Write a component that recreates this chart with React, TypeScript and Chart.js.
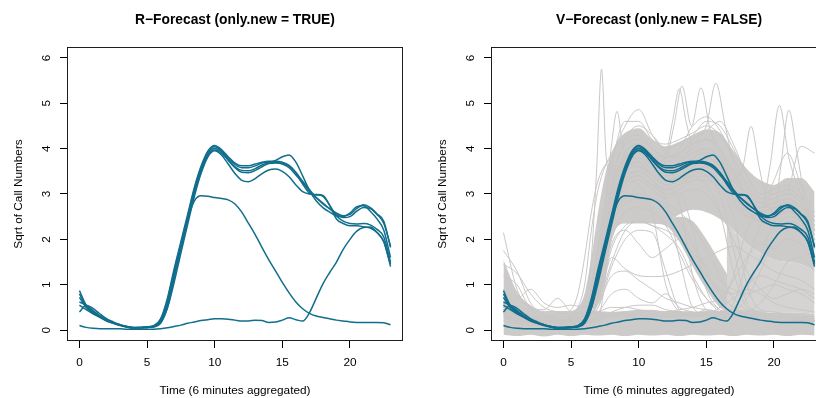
import React, { useEffect, useRef } from 'react';
import { Chart, registerables } from 'chart.js';

Chart.register(...registerables);

const FONT = "'Liberation Sans', Arial, Helvetica, sans-serif";
const BLUE = '#116e8c';
const GREY = '#c9c6c6';
const GREY_FILL = '#cdcaca';
const GREY_MID = '#d6d3d3';

const titleLeft = 'R\u2212Forecast (only.new = TRUE)';
const titleRight = 'V\u2212Forecast (only.new = FALSE)';
const xLabel = 'Time (6 minutes aggregated)';
const yLabel = 'Sqrt of Call Numbers';

const xTicks = [0, 5, 10, 15, 20];
const yTicks = [0, 1, 2, 3, 4, 5, 6];

// time grids
const tHalf = [0, 0.5, 1, 1.5, 2, 2.5, 3, 3.5, 4, 4.5, 5, 5.5, 6, 6.5, 7, 7.5, 8, 8.5, 9, 9.5, 10, 10.5, 11, 11.5, 12, 12.5, 13, 13.5, 14, 14.5, 15, 15.5, 16, 16.5, 17, 17.5, 18, 18.5, 19, 19.5, 20, 20.5, 21, 21.5, 22, 22.5, 23];
const tHour = [0, 1, 2, 3, 4, 5, 6, 7, 8, 9, 10, 11, 12, 13, 14, 15, 16, 17, 18, 19, 20, 21, 22, 23];

// forecast curves (blue)
const blueA = [0.87,0.55,0.42,0.31,0.22,0.16,0.12,0.08,0.06,0.06,0.07,0.10,0.25,0.70,1.35,1.95,2.55,3.15,3.62,3.95,4.07,3.98,3.82,3.68,3.62,3.62,3.66,3.70,3.72,3.72,3.70,3.63,3.48,3.28,3.10,2.92,2.78,2.68,2.58,2.52,2.55,2.68,2.76,2.70,2.55,2.35,1.85];
const blueB = [0.80,0.52,0.40,0.30,0.22,0.16,0.11,0.08,0.05,0.06,0.07,0.09,0.23,0.65,1.30,1.90,2.50,3.10,3.58,3.92,4.04,3.96,3.80,3.65,3.58,3.58,3.62,3.68,3.70,3.74,3.82,3.86,3.70,3.40,3.08,2.85,2.70,2.60,2.52,2.50,2.58,2.72,2.74,2.62,2.45,2.20,1.60];
const blueC = [0.72,0.50,0.38,0.29,0.21,0.15,0.11,0.07,0.05,0.05,0.06,0.08,0.20,0.60,1.24,1.85,2.46,3.06,3.54,3.88,4.00,3.93,3.76,3.60,3.52,3.51,3.56,3.64,3.69,3.70,3.68,3.62,3.46,3.22,3.02,2.98,2.95,2.75,2.52,2.40,2.35,2.34,2.35,2.32,2.22,2.05,1.50];
const blueD = [0.40,0.55,0.48,0.36,0.25,0.18,0.12,0.07,0.05,0.05,0.06,0.08,0.19,0.56,1.18,1.80,2.42,3.02,3.50,3.85,3.97,3.90,3.74,3.58,3.48,3.47,3.52,3.60,3.67,3.68,3.66,3.58,3.42,3.25,3.06,2.92,2.80,2.67,2.56,2.48,2.50,2.62,2.70,2.68,2.56,2.40,1.82];
const blueE = [0.62,0.55,0.43,0.32,0.22,0.16,0.11,0.08,0.06,0.06,0.07,0.09,0.17,0.48,1.05,1.70,2.33,2.95,3.46,3.82,3.95,3.86,3.66,3.45,3.30,3.27,3.34,3.45,3.53,3.55,3.50,3.38,3.20,3.05,3.00,2.99,2.97,2.75,2.45,2.35,2.30,2.30,2.28,2.25,2.15,1.95,1.40];
const blueF = [0.55,0.45,0.36,0.28,0.20,0.15,0.10,0.07,0.05,0.05,0.06,0.07,0.15,0.50,1.15,1.85,2.45,2.85,2.96,2.95,2.92,2.90,2.87,2.78,2.60,2.35,2.10,1.82,1.55,1.30,1.05,0.82,0.62,0.47,0.37,0.31,0.28,0.25,0.22,0.20,0.18,0.17,0.17,0.17,0.17,0.16,0.12];
const blueG = [0.10,0.06,0.04,0.03,0.03,0.03,0.03,0.02,0.02,0.02,0.02,0.02,0.03,0.05,0.08,0.11,0.15,0.18,0.21,0.23,0.25,0.25,0.24,0.22,0.20,0.20,0.22,0.21,0.17,0.18,0.22,0.27,0.23,0.20,0.38,0.70,1.02,1.27,1.50,1.78,2.00,2.18,2.26,2.27,2.15,1.95,1.45];

// dense grey masses (lower / upper envelopes)
const botLo = [-0.1,-0.13,-0.1,-0.14,-0.1,-0.13,-0.1,-0.12,-0.1,-0.13,-0.1,-0.12,-0.1,-0.13,-0.1,-0.12,-0.1,-0.13,-0.1,-0.12,-0.1,-0.13,-0.1,-0.12];
const botHi = [1.55,0.85,0.55,0.42,0.42,0.42,0.45,0.42,0.4,0.42,0.45,0.45,0.42,0.42,0.4,0.42,0.42,0.45,0.45,0.4,0.38,0.38,0.38,0.35];
const dayT = [5, 5.5, 6, 6.5, 7, 7.5, 8, 8.5, 9, 10, 11, 12, 13, 14, 15, 16, 17, 18, 19, 20, 21, 22, 23];
const dayLo = [0.42,0.42,0.42,0.45,0.6,1.2,2.0,2.3,2.35,2.35,2.35,2.4,2.55,2.65,2.6,2.45,2.2,1.9,1.7,1.55,1.5,1.45,1.3];
const dayHi = [0.42,0.5,0.8,1.6,2.6,3.4,3.9,4.2,4.35,4.45,4.2,4.05,4.15,4.3,4.42,4.35,3.95,3.55,3.3,3.2,3.35,3.35,3.05];
const swT = [11, 12, 13, 14, 15, 16, 17, 18];
const swLo = [2.35,2.3,1.95,1.4,0.9,0.5,0.38,0.4];
const swHi = [2.4,2.45,2.5,2.4,2.0,1.5,1.0,0.55];
const eveT = [16.5, 17, 18, 19, 20, 21, 22, 23];
const eveLo = [0.42,0.42,0.42,0.4,0.38,0.38,0.38,0.35];
const eveHi = [2.4,2.2,1.9,1.7,1.55,1.5,1.45,1.3];

// individual grey curves
const g1 = [2.15,0.9,0.45,0.3,0.25,0.2,0.3,0.9,3.0,3.9,4.1,3.8,3.6,3.7,3.9,4.0,3.8,3.3,2.9,2.7,2.8,2.9,2.7,2.2];
const g2 = [1.75,1.3,0.6,0.35,0.3,0.3,0.25,0.3,2.2,3.5,4.0,3.7,3.5,3.6,3.8,3.9,3.7,3.2,2.8,2.6,2.7,2.8,2.6,2.0];
const g3 = [1.2,1.0,0.5,0.45,0.7,0.4,0.35,0.4,0.3,0.3,0.25,0.3,0.28,0.3,0.35,0.3,0.25,0.3,0.3,0.25,0.25,0.3,0.2,0.2];
const tRise = [0,1,2,3,4,5,5.5,6,6.5,7,8,9,10,11,12,13,14,15,16,17,18,19,20,21,22,23];
const g4 = [0.6,0.4,0.3,0.3,0.35,0.45,0.8,1.6,2.6,3.3,3.8,3.9,3.7,3.4,3.2,3.3,3.5,3.6,3.4,3.0,2.6,2.4,2.5,2.6,2.4,2.0];
const g5 = [0.9,0.5,0.3,0.25,0.25,0.35,0.5,1.0,2.2,3.1,3.9,4.2,4.3,4.0,3.8,3.9,4.1,4.2,4.0,3.5,3.0,2.8,2.9,3.0,2.8,2.3];
const s1T = [0,1,2,3,4,5,6,6.5,6.9,7.25,7.6,8,9,10,11,12,13,14,15,16,17,18,19,20,21,22,23];
const s1V = [0.5,0.35,0.25,0.2,0.2,0.3,0.6,1.6,3.6,5.75,3.8,3.4,3.7,3.9,3.6,3.3,3.3,3.5,3.6,3.4,3.0,2.6,2.4,2.3,2.5,2.4,1.9];
const s2T = [0,1,2,3,4,5,6,7,7.6,8.0,8.4,8.8,9.2,10,11,12,13,14,15,16,17,18,19,20,21,22,23];
const s2V = [0.45,0.3,0.2,0.2,0.2,0.25,0.4,1.8,3.0,4.1,4.82,4.1,3.7,3.6,3.4,3.2,3.3,3.5,3.6,3.5,3.1,2.7,2.5,2.5,2.6,2.5,2.0];
const g6 = [0.7,0.4,0.3,0.25,0.2,0.25,0.4,1.8,3.7,4.5,4.86,4.3,3.9,3.8,4.0,4.2,4.0,3.5,3.0,2.8,2.9,3.0,2.8,2.2];
const g7 = [0.5,0.3,0.2,0.2,0.2,0.25,0.35,1.5,3.6,4.6,4.6,4.2,4.1,4.2,4.35,4.5,4.3,3.8,3.2,2.9,3.0,3.1,2.9,2.4];
const g8 = [0.4,0.3,0.2,0.15,0.15,0.2,0.3,1.2,3.2,4.2,4.5,4.3,4.0,4.1,4.3,4.6,4.5,4.0,3.4,3.0,3.1,3.2,3.0,2.5];
const g9 = [0.6,0.35,0.25,0.2,0.2,0.25,0.35,1.2,3.3,4.1,4.2,4.0,3.8,4.0,4.5,4.7,4.4,3.8,3.2,2.9,2.9,3.0,2.8,2.3];
const g10 = [0.5,0.3,0.2,0.2,0.15,0.2,0.3,1.0,3.0,3.9,4.1,3.9,3.7,3.9,4.2,4.4,4.6,4.1,3.4,3.0,3.0,3.1,2.9,2.4];
const h1T = [0,1,2,3,4,5,6,7,8,9,10,11,12,12.5,13,13.5,14,15,16,17,18,19,20,21,22,23];
const h1V = [0.6,0.4,0.25,0.2,0.2,0.25,0.35,1.4,3.2,3.8,4.0,3.8,3.9,4.6,5.32,4.6,4.1,4.2,3.9,3.4,2.9,2.6,2.7,2.8,2.6,2.1];
const h2T = [0,1,2,3,4,5,6,7,8,9,10,11,12,12.6,13.2,13.9,14.6,15.3,16,17,18,19,20,21,22,23];
const h2V = [0.5,0.35,0.25,0.2,0.2,0.2,0.3,1.1,3.0,3.7,3.9,3.7,3.8,4.5,5.38,4.5,5.34,4.4,4.0,3.5,3.0,2.7,2.7,2.9,2.7,2.2];
const h3T = [0,1,2,3,4,5,6,7,8,9,10,11,12,13,14,15,15.7,16.4,17,18,19,20,21,22,23];
const h3V = [0.55,0.35,0.25,0.2,0.2,0.25,0.35,1.3,3.1,3.8,4.0,3.7,3.5,3.7,4.1,4.5,5.44,4.5,3.7,3.1,2.8,2.7,2.8,2.7,2.2];
const e1T = [0,1,2,3,4,5,6,7,8,9,10,11,12,13,14,15,16,17,17.7,18.3,18.9,19.5,20,21,22,23];
const e1V = [0.4,0.3,0.2,0.2,0.2,0.25,0.35,1.2,3.0,3.7,3.9,3.6,3.4,3.5,3.8,4.0,3.8,3.3,3.6,4.49,3.6,2.8,2.6,2.6,2.5,2.0];
const e2T = [0,1,2,3,4,5,6,7,8,9,10,11,12,13,14,15,16,17,18,19,19.7,20.4,21.1,22,23];
const e2V = [0.5,0.3,0.2,0.2,0.2,0.2,0.3,1.0,2.8,3.6,3.8,3.5,3.3,3.4,3.7,3.8,3.6,3.1,2.7,2.6,3.6,4.95,3.8,3.0,2.3];
const e3T = [0,1,2,3,4,5,6,7,8,9,10,11,12,13,14,15,16,17,18,19,20,20.5,21.1,21.7,22.3,23];
const e3V = [0.45,0.3,0.2,0.2,0.2,0.2,0.3,0.9,2.7,3.5,3.7,3.4,3.2,3.3,3.6,3.7,3.5,3.0,2.6,2.5,2.6,3.6,4.85,3.9,2.9,2.2];
const e4 = [0.4,0.3,0.2,0.2,0.2,0.2,0.3,0.8,2.5,3.3,3.5,3.3,3.1,3.2,3.4,3.5,3.3,2.9,2.5,2.4,2.5,3.0,4.05,3.9];
const e5 = [0.35,0.25,0.2,0.15,0.15,0.2,0.25,0.7,2.4,3.2,3.4,3.2,3.0,3.1,3.3,3.4,3.2,2.8,2.5,2.6,3.3,3.9,3.2,2.6];
const f1 = [0.5,0.35,0.25,0.2,0.2,0.2,0.25,0.7,2.0,2.6,2.7,2.6,2.3,1.7,1.1,0.7,0.45,0.35,0.3,0.3,0.25,0.25,0.25,0.2];
const f2 = [0.6,0.4,0.3,0.25,0.2,0.2,0.3,0.9,2.3,2.8,2.9,2.9,2.7,2.4,1.9,1.3,0.8,0.5,0.35,0.3,0.3,0.3,0.25,0.2];
const f3 = [0.4,0.3,0.2,0.2,0.15,0.2,0.25,0.6,1.8,2.3,2.4,2.3,2.1,1.8,1.2,0.7,0.4,0.3,0.3,0.25,0.25,0.2,0.2,0.2];
const f4 = [0.45,0.3,0.2,0.2,0.2,0.2,0.3,0.5,1.4,2.0,2.2,2.15,1.3,0.45,0.3,0.3,0.25,0.3,0.3,0.25,0.25,0.3,0.25,0.2];
const f5 = [0.5,0.35,0.25,0.2,0.2,0.25,0.35,1.2,3.0,3.6,3.7,3.4,3.2,2.8,1.2,0.45,0.35,0.3,0.3,0.3,0.25,0.25,0.25,0.2];
const f6 = [0.55,0.35,0.25,0.2,0.2,0.2,0.3,1.0,2.7,3.3,3.4,3.2,3.0,3.0,2.2,0.9,0.45,0.35,0.3,0.3,0.3,0.25,0.25,0.2];
const f7 = [0.5,0.35,0.25,0.2,0.2,0.25,0.35,1.3,3.1,3.7,3.8,3.5,3.3,3.4,3.5,3.4,3.0,1.8,0.6,0.4,0.35,0.3,0.3,0.25];
const f8 = [0.6,0.4,0.3,0.2,0.2,0.25,0.35,1.1,2.9,3.5,3.6,3.4,3.2,3.3,3.4,3.2,2.6,1.3,0.5,0.4,0.35,0.35,0.3,0.25];
const f9 = [0.5,0.35,0.25,0.2,0.2,0.2,0.3,1.0,2.8,3.4,3.5,3.3,3.1,3.2,3.3,3.3,3.1,2.5,1.0,0.45,0.4,0.35,0.3,0.3];
const f10 = [0.5,0.35,0.25,0.2,0.2,0.25,0.35,1.1,2.8,3.3,3.2,2.6,1.0,0.4,0.3,0.3,0.3,0.3,0.3,0.25,0.25,0.25,0.2,0.2];
const f11 = [0.45,0.3,0.2,0.2,0.2,0.2,0.3,0.9,2.6,3.1,3.3,3.2,2.9,1.6,0.5,0.35,0.3,0.3,0.3,0.3,0.25,0.25,0.25,0.2];
const f12 = [0.5,0.3,0.25,0.2,0.2,0.2,0.3,0.8,2.4,2.9,3.0,2.9,2.8,2.6,2.3,1.8,1.2,0.7,0.45,0.35,0.3,0.3,0.25,0.2];
const L1 = [0.4,0.3,0.25,0.2,0.2,0.2,0.3,0.5,1.6,1.35,1.2,1.18,1.2,1.3,1.45,1.6,1.75,1.85,1.7,1.5,1.3,1.2,1.1,0.9];
const L2 = [0.3,0.25,0.2,0.15,0.15,0.2,0.25,0.4,0.8,0.9,0.7,0.6,0.8,0.5,0.4,0.35,0.5,0.7,0.9,0.8,0.6,0.5,0.45,0.4];
const L3 = [0.35,0.25,0.2,0.2,0.15,0.2,0.3,0.6,1.9,2.2,1.9,1.6,1.8,2.0,1.7,1.4,1.1,0.9,0.8,0.9,1.0,0.9,0.8,0.6];
const b1 = [0.2,0.15,0.1,0.1,0.1,0.1,0.15,0.25,0.4,0.5,0.55,0.55,0.45,0.4,0.35,0.45,0.4,0.35,0.3,0.3,0.3,0.3,0.25,0.2];
const r1 = [0.3,0.2,0.15,0.1,0.1,0.15,0.2,0.3,0.35,0.4,0.4,0.35,0.35,0.4,0.4,0.35,0.4,0.6,1.5,2.3,2.6,2.7,2.5,2.0];
const r2 = [0.35,0.25,0.2,0.15,0.15,0.15,0.2,0.3,0.35,0.35,0.3,0.3,0.35,0.3,0.35,0.4,0.5,1.2,2.2,2.7,2.8,2.9,2.6,2.1];
const r3 = [0.25,0.2,0.15,0.1,0.1,0.1,0.15,0.25,0.3,0.3,0.35,0.35,0.3,0.3,0.35,0.35,0.35,0.4,0.7,1.3,2.0,2.4,2.3,1.8];
const r4 = [0.3,0.2,0.15,0.1,0.1,0.15,0.2,0.25,0.3,0.35,0.35,0.3,0.3,0.35,0.3,0.35,0.4,0.5,0.9,1.6,2.4,2.8,2.7,2.2];
const r5 = [0.3,0.2,0.15,0.1,0.1,0.1,0.15,0.2,0.3,0.3,0.3,0.3,0.3,0.3,0.3,0.3,0.3,0.35,0.4,0.6,1.0,1.5,1.6,1.3];
const v1 = [0.4,0.3,0.2,0.2,0.2,0.2,0.3,0.6,1.5,2.2,2.4,2.3,2.2,2.0,1.6,1.2,0.9,0.8,1.0,1.2,1.1,1.0,0.9,0.7];
const v2 = [0.35,0.25,0.2,0.15,0.15,0.2,0.25,0.4,0.5,0.5,0.45,0.4,0.4,0.45,0.5,0.6,0.7,1.1,1.6,1.9,1.8,2.0,1.9,1.5];
const v3 = [0.5,0.3,0.2,0.2,0.2,0.2,0.3,1.0,2.6,3.2,3.3,3.1,2.9,3.0,3.1,3.0,2.6,2.0,1.3,0.9,0.7,0.8,0.9,0.8];
const n1 = [1.45,1.25,0.8,0.5,0.4,0.35,0.4,0.35,0.3,0.3,0.35,0.3,0.3,0.3,0.3,0.35,0.3,0.3,0.3,0.3,0.3,0.25,0.25,0.2];
const n2 = [0.9,0.7,0.9,0.6,0.5,0.55,0.5,0.6,1.2,1.3,1.1,0.9,0.7,0.6,0.5,0.45,0.4,0.4,0.35,0.35,0.3,0.3,0.3,0.25];

const blueCurves = [blueA, blueB, blueC, blueD, blueE, blueF, blueG];
const greyCurves: [number[], number[]][] = [
  [tHour, g1], [tHour, g2], [tHour, g3], [tRise, g4], [tRise, g5],
  [s1T, s1V], [s2T, s2V], [tHour, g6], [tHour, g7], [tHour, g8], [tHour, g9], [tHour, g10],
  [h1T, h1V], [h2T, h2V], [h3T, h3V], [e1T, e1V], [e2T, e2V], [e3T, e3V], [tHour, e4], [tHour, e5],
  [tHour, f1], [tHour, f2], [tHour, f3], [tHour, f4], [tHour, f5], [tHour, f6], [tHour, f7], [tHour, f8], [tHour, f9],
  [tHour, f10], [tHour, f11], [tHour, f12], [tHour, L1], [tHour, L2], [tHour, L3], [tHour, b1],
  [tHour, r1], [tHour, r2], [tHour, r3], [tHour, r4], [tHour, r5],
  [tHour, v1], [tHour, v2], [tHour, v3], [tHour, n1], [tHour, n2],
];
const greyBands: [number[], number[], number[], string][] = [
  [tHour, botLo, botHi, GREY_FILL],
  [eveT, eveLo, eveHi, GREY_MID],
  [dayT, dayLo, dayHi, GREY_FILL],
  [swT, swLo, swHi, GREY_FILL],
];

function pts(t: number[], v: number[]) {
  return v.map((y, i) => ({ x: t[i], y }));
}

function lineDs(t: number[], v: number[], color: string, width: number, order: number) {
  return {
    data: pts(t, v), borderColor: color, backgroundColor: color, borderWidth: width,
    pointRadius: 0, pointHoverRadius: 0, fill: false, cubicInterpolationMode: 'monotone', order,
  };
}

function bandDs(t: number[], lo: number[], hi: number[], color: string) {
  return [
    { data: pts(t, lo), borderColor: 'rgba(0,0,0,0)', borderWidth: 0, pointRadius: 0, fill: false, cubicInterpolationMode: 'monotone', order: 2 },
    { data: pts(t, hi), borderColor: 'rgba(0,0,0,0)', borderWidth: 0, pointRadius: 0, fill: '-1', backgroundColor: color, cubicInterpolationMode: 'monotone', order: 2 },
  ];
}

function blueSets() {
  return blueCurves.map((v) => lineDs(tHalf, v, BLUE, 1.5, 0));
}

function leftDatasets() {
  return blueSets();
}

function rightDatasets() {
  const sets: any[] = [];
  greyBands.forEach(([t, lo, hi, c]) => sets.push(...bandDs(t, lo, hi, c)));
  greyCurves.forEach(([t, v]) => sets.push(lineDs(t, v, GREY, 1, 1)));
  sets.push(...blueSets());
  return sets;
}

const boxPlugin = {
  id: 'rbox',
  afterDraw(chart: any) {
    const { ctx, chartArea: a } = chart;
    const l = Math.round(a.left), t = Math.round(a.top), r = Math.round(a.right), b = Math.round(a.bottom);
    ctx.save();
    ctx.strokeStyle = '#1e1e1e';
    ctx.lineWidth = 1;
    ctx.strokeRect(l + 0.5, t + 0.5, r - l - 1, b - t - 1);
    ctx.restore();
  },
};

function makeOptions(title: string): any {
  const tickFont = { family: FONT, size: 11.8 };
  const grid = { display: true, drawOnChartArea: false, drawTicks: true, tickLength: 7, color: '#000', lineWidth: 1 };
  return {
    responsive: false,
    animation: false,
    devicePixelRatio: 1,
    events: [],
    layout: { padding: { left: 0, right: 17, top: 0, bottom: 0 } },
    plugins: {
      legend: { display: false },
      tooltip: { enabled: false },
      title: {
        display: true, text: title, fullSize: false, color: '#000',
        font: { family: FONT, size: 13.8, weight: 'bold', lineHeight: 1.2 },
        padding: { top: 11.7, bottom: 18.7 },
      },
    },
    scales: {
      x: {
        type: 'linear', min: -0.92, max: 23.92,
        afterBuildTicks: (s: any) => { s.ticks = xTicks.map((v) => ({ value: v })); },
        afterFit: (s: any) => { s.height = 57; },
        grid, border: { display: false },
        ticks: { color: '#000', font: tickFont, padding: 7.5, autoSkip: false, maxRotation: 0, minRotation: 0 },
        title: { display: true, text: xLabel, color: '#000', font: { family: FONT, size: 11.8, lineHeight: 1.2 }, padding: { top: 0, bottom: 0 } },
      },
      y: {
        type: 'linear', min: -0.24, max: 6.24,
        afterBuildTicks: (s: any) => { s.ticks = yTicks.map((v) => ({ value: v })); },
        afterFit: (s: any) => { s.width = 67; },
        grid, border: { display: false },
        ticks: { color: '#000', font: tickFont, padding: 10.2, autoSkip: false, minRotation: 90, maxRotation: 90, crossAlign: 'center' },
        title: { display: true, text: yLabel, color: '#000', font: { family: FONT, size: 11.8, lineHeight: 1.2 }, padding: { top: 11.4, bottom: 0 } },
      },
    },
  };
}

function Panel({ title, left, datasets }: { title: string; left: number; datasets: () => any[] }) {
  const ref = useRef<HTMLCanvasElement>(null);
  useEffect(() => {
    const chart = new Chart(ref.current as HTMLCanvasElement, {
      type: 'line',
      data: { datasets: datasets() },
      options: makeOptions(title),
      plugins: [boxPlugin],
    } as any);
    return () => chart.destroy();
  }, []);
  return (
    <canvas
      ref={ref}
      width={420}
      height={398}
      style={{ position: 'absolute', left, top: 0, width: 420, height: 398, display: 'block' }}
    />
  );
}

export default function App() {
  return (
    <div style={{ position: 'fixed', left: 0, top: 0, width: 816, height: 398, overflow: 'hidden', background: '#fff' }}>
      <Panel title={titleLeft} left={0} datasets={leftDatasets} />
      <Panel title={titleRight} left={424} datasets={rightDatasets} />
    </div>
  );
}
